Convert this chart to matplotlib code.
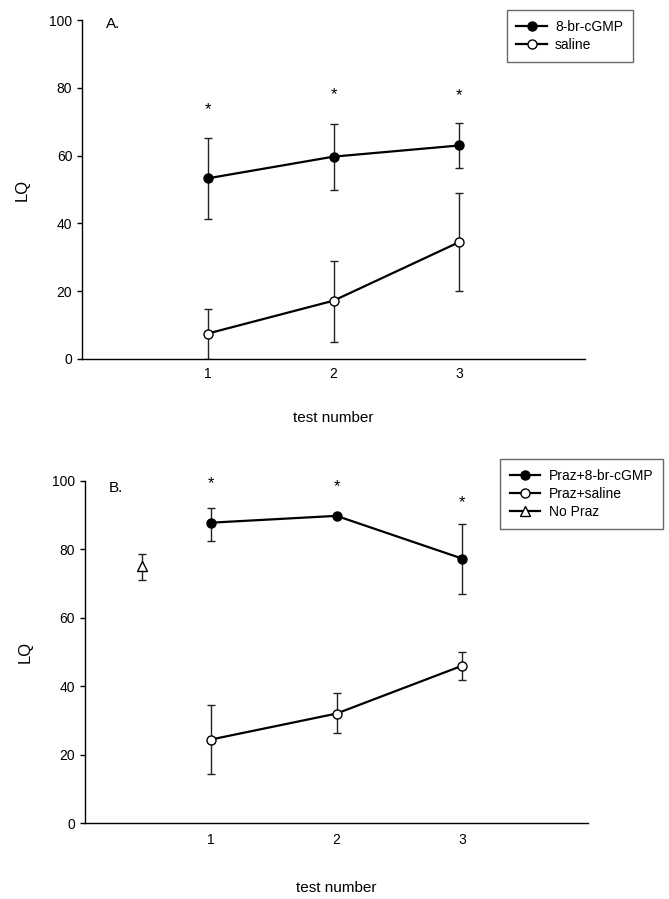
import matplotlib
matplotlib.use("Agg")
import matplotlib.pyplot as plt

plt.rcParams['font.family'] = ['Liberation Sans', 'DejaVu Sans']

TESTS = [1, 2, 3]

# panel A
CGMP_A = [53.3, 59.7, 63.0]
CGMP_A_LO = [41.2, 49.9, 56.2]
CGMP_A_HI = [65.2, 69.4, 69.5]
SAL_A = [7.5, 17.2, 34.5]
SAL_A_LO = [0.0, 5.1, 20.1]
SAL_A_HI = [14.7, 28.9, 49.0]
STAR_A = [73.5, 78.0, 77.8]

# panel B
CGMP_B = [87.8, 89.8, 77.3]
CGMP_B_LO = [82.5, 89.8, 67.1]
CGMP_B_HI = [92.1, 89.8, 87.5]
SAL_B = [24.4, 32.0, 46.0]
SAL_B_LO = [14.3, 26.2, 41.7]
SAL_B_HI = [34.4, 37.9, 49.9]
NOPRAZ_X = [0.45]
NOPRAZ = [75.0]
NOPRAZ_LO = [71.0]
NOPRAZ_HI = [78.7]
STAR_B = [99.3, 98.4, 93.8]


def err(vals, lo, hi):
    return [[v - l for v, l in zip(vals, lo)], [h - v for v, h in zip(vals, hi)]]


def series(ax, x, y, lo, hi, marker, fc, label, line=True):
    ax.errorbar(x, y, yerr=err(y, lo, hi), fmt='none', ecolor='#222222',
                elinewidth=1.0, capsize=3, capthick=1.0, zorder=2)
    ax.plot(x, y, '-' if line else 'none', color='black', lw=1.6,
            marker=marker, ms=6.5 if marker == 'o' else 7, mfc=fc, mec='black',
            mew=1.0, label=label, zorder=3)


def style(ax, tag, tag_y, tickpad, labpad):
    ax.set_xlim(0, 4)
    ax.set_ylim(0, 100)
    ax.set_yticks([0, 20, 40, 60, 80, 100])
    ax.set_xticks(TESTS)
    ax.spines['top'].set_visible(False)
    ax.spines['right'].set_visible(False)
    for s in ('left', 'bottom'):
        ax.spines[s].set_linewidth(1.0)
    ax.tick_params(axis='y', direction='out', length=3.5, width=1.0, labelsize=10)
    ax.tick_params(axis='x', length=0, labelsize=10, pad=tickpad)
    ax.set_xlabel('test number', fontsize=11, labelpad=labpad)
    ax.set_ylabel('LQ', fontsize=12, labelpad=14)
    ax.text(0.19, tag_y, tag, fontsize=11, va='center')


def legend(ax, handles, labels, anchor, fig):
    leg = ax.legend(handles, labels, loc='upper right', bbox_to_anchor=anchor,
                    bbox_transform=fig.transFigure, borderaxespad=0, fontsize=10,
                    frameon=True, fancybox=False, edgecolor='#444444',
                    handlelength=2.2, handletextpad=0.6, borderpad=0.7,
                    labelspacing=0.3)
    leg.get_frame().set_linewidth(1.0)
    return leg


fig = plt.figure(figsize=(6.69, 8.99), dpi=100)
ax1 = fig.add_axes([0.1226, 0.6007, 0.752, 0.377])
ax2 = fig.add_axes([0.127, 0.0845, 0.752, 0.3805])

series(ax1, TESTS, CGMP_A, CGMP_A_LO, CGMP_A_HI, 'o', 'black', '8-br-cGMP')
series(ax1, TESTS, SAL_A, SAL_A_LO, SAL_A_HI, 'o', 'white', 'saline')
for x, s in zip(TESTS, STAR_A):
    ax1.text(x, s, '*', ha='center', va='center', fontsize=12)
style(ax1, 'A.', 98.8, 5.5, 22)
h, l = ax1.get_legend_handles_labels()
legend(ax1, h, l, (0.946, 0.9889), fig)

series(ax2, TESTS, CGMP_B, CGMP_B_LO, CGMP_B_HI, 'o', 'black', 'Praz+8-br-cGMP')
series(ax2, TESTS, SAL_B, SAL_B_LO, SAL_B_HI, 'o', 'white', 'Praz+saline')
series(ax2, NOPRAZ_X, NOPRAZ, NOPRAZ_LO, NOPRAZ_HI, '^', 'white', 'No Praz', line=False)
for x, s in zip(TESTS, STAR_B):
    ax2.text(x, s, '*', ha='center', va='center', fontsize=12)
style(ax2, 'B.', 98.0, 7.5, 24)
h, l = ax2.get_legend_handles_labels()
leg2 = legend(ax2, h, l, (0.991, 0.4894), fig)
for hd in leg2.legend_handles:
    hd.set_linestyle('-')

fig.savefig('out.png', dpi=100)
